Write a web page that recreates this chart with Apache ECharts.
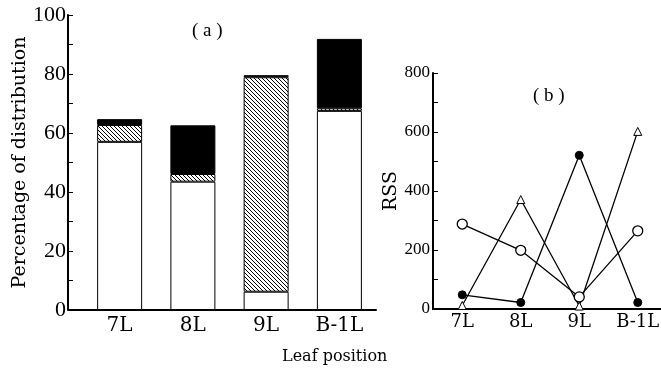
<!DOCTYPE html>
<html>
<head>
<meta charset="utf-8">
<script src="https://cdn.jsdelivr.net/npm/echarts@6/dist/echarts.min.js"></script>
<style>
html, body { margin: 0; padding: 0; background: #fff; }
#main { width: 661px; height: 368px; }
</style>
</head>
<body>
<div id="main"></div>
<script>
// categories
var leafPositions = ['7L', '8L', '9L', 'B-1L'];

// (a) percentage of distribution, stacked
var whitePart = [57.0, 43.5, 6.2, 67.5];
var hatchedPart = [5.7, 2.6, 72.7, 0.9];
var blackPart = [2.0, 16.5, 0.7, 23.5];

// (b) RSS
var rssOpenCircle = [288, 199, 41, 265];
var rssFilledCircle = [48, 22, 521, 22];
var rssTriangle = [12, 371, 10, 602];

var FONT = 'Liberation Serif';
var WIDE = 'DejaVu Serif';

/**
 * 斜线填充
 */
function hatchPattern() {
    var c = document.createElement('canvas');
    c.width = 4;
    c.height = 4;
    var ctx = c.getContext('2d');
    ctx.fillStyle = '#fff';
    ctx.fillRect(0, 0, 4, 4);
    ctx.strokeStyle = '#000';
    ctx.lineWidth = 1;
    ctx.beginPath();
    ctx.moveTo(-1, -1); ctx.lineTo(5, 5);
    ctx.moveTo(-1, 3); ctx.lineTo(1, 5);
    ctx.moveTo(3, -1); ctx.lineTo(5, 1);
    ctx.stroke();
    return c;
}

var myChart = echarts.init(document.getElementById('main'));

var barBase = {
    type: 'bar',
    stack: 'a',
    xAxisIndex: 0,
    yAxisIndex: 0,
    barWidth: 45,
    silent: true
};

var option = {
    animation: false,
    backgroundColor: '#fff',
    title: [
        {text: '( a )', left: 187, top: 17, textStyle: {fontFamily: FONT, fontSize: 19, fontWeight: 'normal', color: '#000'}},
        {text: '( b )', left: 528, top: 82, textStyle: {fontFamily: FONT, fontSize: 19, fontWeight: 'normal', color: '#000'}},
        {text: 'Leaf position', left: 277, top: 344, textStyle: {fontFamily: WIDE, fontSize: 16, fontWeight: 'normal', color: '#000'}}
    ],
    grid: [
        {left: 83, top: 15, width: 293, height: 295, outerBoundsMode: 'none'},
        {left: 433, top: 73, width: 234, height: 236, outerBoundsMode: 'none'}
    ],
    xAxis: [
        {
            type: 'category', gridIndex: 0, data: leafPositions,
            axisLine: {lineStyle: {color: '#000', width: 2}},
            axisTick: {show: false},
            axisLabel: {color: '#000', fontFamily: WIDE, fontSize: 20, margin: 6}
        },
        {
            type: 'category', gridIndex: 1, data: leafPositions,
            axisLine: {lineStyle: {color: '#000', width: 2}},
            axisTick: {show: false},
            axisLabel: {color: '#000', fontFamily: WIDE, fontSize: 18, margin: 4}
        }
    ],
    yAxis: [
        {
            type: 'value', gridIndex: 0, min: 0, max: 100, interval: 20, offset: 15,
            name: 'Percentage of distribution', nameLocation: 'middle', nameGap: 38, nameRotate: 90,
            nameTextStyle: {color: '#000', fontFamily: WIDE, fontSize: 19},
            axisLine: {show: true, lineStyle: {color: '#000', width: 2}},
            axisTick: {show: true, inside: true, length: 5, lineStyle: {color: '#000'}},
            minorTick: {show: true, splitNumber: 2, length: 5, lineStyle: {color: '#000'}},
            splitLine: {show: false},
            axisLabel: {color: '#000', fontFamily: FONT, fontSize: 22, margin: 2}
        },
        {
            type: 'value', gridIndex: 1, min: 0, max: 800, interval: 200,
            name: 'RSS', nameLocation: 'middle', nameGap: 30, nameRotate: 90,
            nameTextStyle: {color: '#000', fontFamily: WIDE, fontSize: 19},
            axisLine: {show: true, lineStyle: {color: '#000', width: 2}},
            axisTick: {show: true, inside: true, length: 5, lineStyle: {color: '#000'}},
            minorTick: {show: true, splitNumber: 2, length: 5, lineStyle: {color: '#000'}},
            splitLine: {show: false},
            axisLabel: {color: '#000', fontFamily: FONT, fontSize: 17, margin: 3}
        }
    ],
    graphic: [
        // 横轴延伸到纵轴
        {type: 'line', shape: {x1: 68, y1: 310, x2: 84, y2: 310}, style: {stroke: '#000', lineWidth: 2}, silent: true}
    ],
    series: [
        Object.assign({}, barBase, {
            name: 'white', data: whitePart,
            itemStyle: {color: '#fff', borderColor: '#000', borderWidth: 1}
        }),
        Object.assign({}, barBase, {
            name: 'hatched', data: hatchedPart,
            itemStyle: {color: {image: hatchPattern(), repeat: 'repeat'}, borderColor: '#000', borderWidth: 1}
        }),
        Object.assign({}, barBase, {
            name: 'black', data: blackPart,
            itemStyle: {color: '#000', borderColor: '#000', borderWidth: 1}
        }),
        {
            type: 'line', name: 'open', xAxisIndex: 1, yAxisIndex: 1, data: rssOpenCircle,
            symbol: 'circle', symbolSize: 10, silent: true,
            lineStyle: {color: '#000', width: 1.3},
            itemStyle: {color: '#fff', borderColor: '#000', borderWidth: 1.3}
        },
        {
            type: 'line', name: 'filled', xAxisIndex: 1, yAxisIndex: 1, data: rssFilledCircle,
            symbol: 'circle', symbolSize: 8, silent: true,
            lineStyle: {color: '#000', width: 1.3},
            itemStyle: {color: '#000', borderColor: '#000'}
        },
        {
            type: 'line', name: 'triangle', xAxisIndex: 1, yAxisIndex: 1, data: rssTriangle,
            symbol: 'triangle', symbolSize: 8, silent: true,
            lineStyle: {color: '#000', width: 1.3},
            itemStyle: {color: '#fff', borderColor: '#000', borderWidth: 1}
        }
    ]
};

myChart.setOption(option);
</script>
</body>
</html>
